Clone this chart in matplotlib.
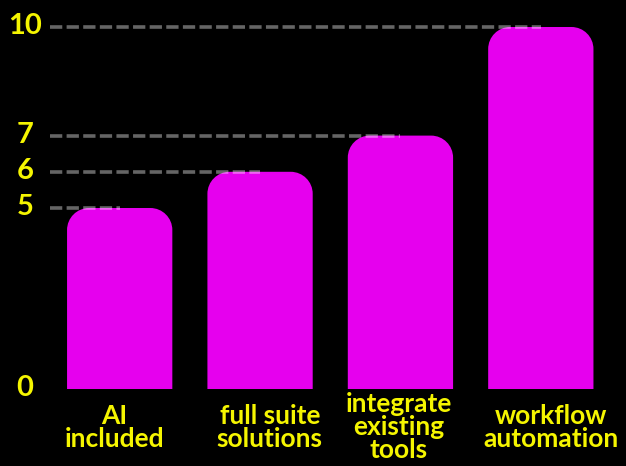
import matplotlib.pyplot as plt
import matplotlib.transforms as mtransforms
from matplotlib.path import Path
from matplotlib.patches import PathPatch

# data
categories = ["AI\nincluded", "full suite\nsolutions", "integrate\nexisting\ntools", "workflow\nautomation"]
values = [5, 6, 7, 10]
tick_values = [0, 5, 6, 7, 10]

BG = "#000000"
BAR = "#e600ee"
YELLOW = "#f5f500"
FONT = "Lato"

fig = plt.figure(figsize=(6.26, 4.66), dpi=100, facecolor=BG)
ax = fig.add_axes([49.5 / 626, 1 - 389 / 466, (611 - 49.5) / 626, (389 - 27) / 466])
ax.set_facecolor(BG)

x = list(range(len(values)))
bars = ax.bar(x, values, width=0.75, color=BAR, zorder=2)
ax.set_xlim(-0.5, len(values) - 0.5)
ax.set_ylim(0, 10)

# round the top corners of each bar
fig.canvas.draw()
px_x = ax.transData.transform((1, 0))[0] - ax.transData.transform((0, 0))[0]
px_y = ax.transData.transform((0, 1))[1] - ax.transData.transform((0, 0))[1]
r_px = 22
rx, ry = r_px / px_x, r_px / px_y
k = 0.5523
for b in bars:
    x0, w, h = b.get_x(), b.get_width(), b.get_height()
    x1 = x0 + w
    verts = [
        (x0, 0), (x0, h - ry),
        (x0, h - ry + k * ry), (x0 + rx - k * rx, h), (x0 + rx, h),
        (x1 - rx, h),
        (x1 - rx + k * rx, h), (x1, h - ry + k * ry), (x1, h - ry),
        (x1, 0), (x0, 0),
    ]
    codes = [Path.MOVETO, Path.LINETO,
             Path.CURVE4, Path.CURVE4, Path.CURVE4,
             Path.LINETO,
             Path.CURVE4, Path.CURVE4, Path.CURVE4,
             Path.LINETO, Path.CLOSEPOLY]
    ax.add_patch(PathPatch(Path(verts, codes), facecolor=BAR, edgecolor="none",
                           zorder=2, clip_on=False))
    b.set_visible(False)

# dashed guide lines from the axis to the bar centre
for i, v in enumerate(values):
    ax.hlines(v, -0.5, i, colors="white", alpha=0.4, linewidth=2.6,
              linestyles=(0, (3.4, 1.2)), zorder=3, clip_on=False)

ax.set_yticks(tick_values)
ax.set_yticklabels([str(t) for t in tick_values])
ax.set_xticks(x)
ax.set_xticklabels([])
ax.tick_params(axis="y", length=0, pad=17.6, colors=YELLOW)
ax.tick_params(axis="x", length=0)
shift_up = mtransforms.ScaledTranslation(0, 2.5 / 72, fig.dpi_scale_trans)
for lab in ax.get_yticklabels():
    lab.set_ha("center")
    lab.set_fontfamily(FONT)
    lab.set_fontweight("bold")
    lab.set_fontsize(21)
    lab.set_transform(lab.get_transform() + shift_up)

label_dx = [-0.04, 0.07, -0.01, 0.07]
for i, c in enumerate(categories):
    ax.text(i + label_dx[i], -1.05, c, ha="center", va="center", color=YELLOW, fontsize=19,
            fontfamily=FONT, fontweight="bold", linespacing=0.95,
            transform=ax.transData, clip_on=False)

for s in ax.spines.values():
    s.set_visible(False)

fig.savefig("out.png", dpi=100, facecolor=BG)
